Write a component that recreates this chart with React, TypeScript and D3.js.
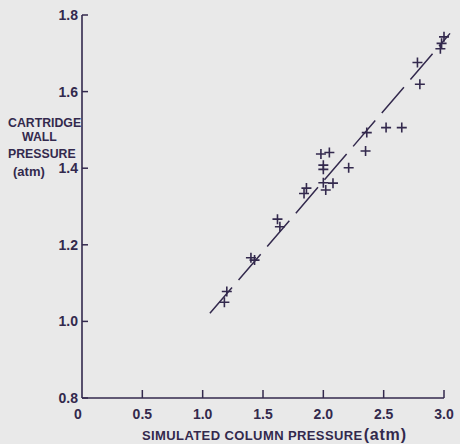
import React from "react";
import * as d3 from "d3";

// simulated column pressure (atm) vs cartridge wall pressure (atm)
const colPressure = [
  1.18, 1.2, 1.4, 1.43, 1.62, 1.64, 1.84, 1.86, 2.0, 2.02, 2.08, 2.0, 2.0, 1.98,
  2.05, 2.21, 2.35, 2.36, 2.52, 2.65, 2.8, 2.78, 2.97, 2.98, 3.0,
];
const wallPressure = [
  1.05, 1.078, 1.166, 1.16, 1.267, 1.247, 1.334, 1.348, 1.362, 1.343, 1.361,
  1.397, 1.408, 1.437, 1.441, 1.401, 1.445, 1.493, 1.506, 1.506, 1.619, 1.676,
  1.712, 1.726, 1.743,
];
// fitted dashed line ends
const fitX = [1.06, 3.05];
const fitY = [1.021, 1.752];

const xTicks = [0, 0.5, 1.0, 1.5, 2.0, 2.5, 3.0];
const xTickLabels = ["0", "0.5", "1.0", "1.5", "2.0", "2.5", "3.0"];
const yTicks = [0.8, 1.0, 1.2, 1.4, 1.6, 1.8];
const yTickLabels = ["0.8", "1.0", "1.2", "1.4", "1.6", "1.8"];
const yTitle = ["CARTRIDGE", "WALL", "PRESSURE", "(atm)"];

const ink = "#33294d";
const font = "'Liberation Sans', Arial, sans-serif";

export default function App() {
  const x = d3.scaleLinear().domain([0, 3]).range([82, 444]);
  const y = d3.scaleLinear().domain([0.8, 1.8]).range([398, 15]);
  const fit = d3
    .line<number>()
    .x((d) => x(d))
    .y((_, i) => y(fitY[i]));

  return (
    <svg
      width={460}
      height={444}
      style={{ position: "absolute", left: 0, top: 0, background: "#e9e9e9" }}
      fontFamily={font}
    >
      {/* axes */}
      <line x1={x(0)} x2={x(0)} y1={y(1.8)} y2={y(0.8)} stroke={ink} strokeWidth={1.6} />
      <line x1={x(0)} x2={x(3)} y1={y(0.8)} y2={y(0.8)} stroke={ink} strokeWidth={1.6} />

      {yTicks.map((t, i) => (
        <g key={"y" + t}>
          <line x1={x(0)} x2={x(0) + 6} y1={y(t)} y2={y(t)} stroke={ink} strokeWidth={1.5} />
          <text
            x={x(0) - 4}
            y={y(t) + 5}
            textAnchor="end"
            fontSize={14}
            fontWeight="bold"
            fill={ink}
          >
            {yTickLabels[i]}
          </text>
        </g>
      ))}

      {xTicks.map((t, i) => (
        <g key={"x" + t}>
          {i > 0 && (
            <line x1={x(t)} x2={x(t)} y1={y(0.8)} y2={y(0.8) - 8} stroke={ink} strokeWidth={1.5} />
          )}
          <text
            x={x(t) - (i === 0 ? 4 : 0)}
            y={419}
            textAnchor="middle"
            fontSize={14}
            fontWeight="bold"
            fill={ink}
          >
            {xTickLabels[i]}
          </text>
        </g>
      ))}

      <text x={142} y={440} fontSize={13} fontWeight="bold" fill={ink} letterSpacing={0.4}>
        SIMULATED COLUMN  PRESSURE
        <tspan fontSize={16} dx={1} letterSpacing={0.8}>(atm)</tspan>
      </text>

      {yTitle.map((s, i) => (
        <text
          key={s}
          x={[8, 22, 8, 13][i]}
          y={[127, 141, 158, 176][i]}
          fontSize={i === 3 ? 13 : 12.3}
          fontWeight="bold"
          fill={ink}
        >
          {s}
        </text>
      ))}

      {/* fitted line */}
      <path
        d={fit(fitX) || ""}
        fill="none"
        stroke={ink}
        strokeWidth={1.5}
        strokeDasharray="34 10"
      />

      {/* data points */}
      {colPressure.map((c, i) => (
        <path
          key={i}
          d={`M${x(c) - 5},${y(wallPressure[i])}h10M${x(c)},${y(wallPressure[i]) - 5}v10`}
          stroke={ink}
          strokeWidth={1.6}
        />
      ))}
    </svg>
  );
}
